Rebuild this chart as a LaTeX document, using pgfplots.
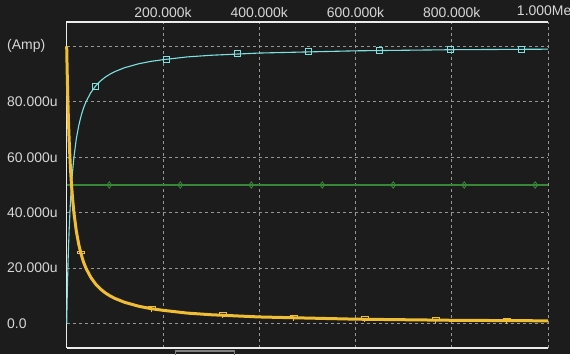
\documentclass[border=0pt]{standalone}
\usepackage{pgfplots}
\pgfplotsset{compat=1.18}
\usepackage{fontspec}
\setmainfont{Liberation Sans}
\definecolor{bg}{RGB}{28,28,28}
\definecolor{textc}{RGB}{215,215,215}
\definecolor{gridc}{RGB}{150,150,150}
\definecolor{axc}{RGB}{235,235,235}
\definecolor{cyanc}{RGB}{125,225,225}
\definecolor{yellowc}{RGB}{240,190,50}
\definecolor{greenc}{RGB}{55,135,55}
\pgfdeclareplotmark{ytee}{%
  \pgfpathrectangle{\pgfpoint{-3.5bp}{0bp}}{\pgfpoint{7bp}{2.5bp}}%
  \pgfpathmoveto{\pgfpoint{0bp}{0bp}}\pgfpathlineto{\pgfpoint{0bp}{-3bp}}%
  \pgfusepathqstroke}
\pgfplotstableread{
x cy ye
0 0 100
0.5 4.8 95.2
1 9.1 90.9
1.5 13.0 87.0
2 16.7 83.3
3 23.1 76.9
4 28.6 71.4
5 33.3 66.7
6 37.5 62.5
7.5 42.9 57.1
8.5 45.9 54.1
10 50 50
12 54.5 45.5
15 60 40
20 66.7 33.3
25 71.4 28.6
30 75 25
35 77.8 22.2
40 80 20
50 83.3 16.7
60 85.7 14.3
70 87.5 12.5
80 88.9 11.1
90 90.0 10.0
100 90.9 9.1
120 92.3 7.7
150 93.75 6.25
175 94.6 5.4
200 95.2 4.8
250 96.2 3.8
300 96.8 3.2
350 97.2 2.8
400 97.6 2.4
450 97.8 2.2
500 98.0 2.0
600 98.4 1.6
700 98.6 1.4
800 98.8 1.2
900 98.9 1.1
1000 99.0 1.0
}\curves
\usepackage{pgfplotstable}
\begin{document}
\begin{tikzpicture}[x=1bp,y=1bp]
\fill[bg] (0,0) rectangle (570,354);
\useasboundingbox (0,0) rectangle (570,354);
\begin{axis}[
  at={(66.7bp,6bp)}, anchor=south west, scale only axis,
  width=481.3bp, height=326bp,
  xmin=0, xmax=1000, ymin=-8.8, ymax=108.8,
  axis line style={draw=none},
  xtick={200,400,600,800,1000},
  xticklabels={200.000k,400.000k,600.000k,800.000k,1.000Meg},
  xticklabel pos=upper,
  ytick={0,20,40,60,80,100},
  yticklabels={0.0,20.000u,40.000u,60.000u,80.000u,(Amp)},
  major tick length=0pt,
  grid=major,
  major grid style={gridc, dash pattern=on 3bp off 3bp, line width=0.8bp},
  ticklabel style={font=\fontsize{14}{16}\selectfont, text=textc, inner sep=0pt},
  yticklabel style={anchor=west, xshift=-59.7bp},
  xticklabel style={anchor=south, yshift=3.7bp},
  clip=false,
]
\draw[axc, line width=1.4bp] (rel axis cs:0,0) -- (rel axis cs:0,1) -- (rel axis cs:1,1);
\draw[axc, line width=1.4bp] (rel axis cs:0,0) -- (rel axis cs:1,0);
% green constant
\addplot[greenc, line width=1.1bp] coordinates {(0,50) (1000,50)};
\addplot[greenc, only marks, mark=diamond, mark size=3.2bp, mark options={line width=0.8bp}]
  coordinates {(88.5,50) (236,50) (383.5,50) (531,50) (678.5,50) (826,50) (973.5,50)};
% cyan rising
\addplot[cyanc, line width=1.1bp, line join=round] table[x=x, y=cy] {\curves};
\addplot[cyanc, only marks, mark=square, mark size=3bp, mark options={line width=0.9bp}]
  coordinates {(59,85.5) (206.5,95.3) (354,97.3) (501.5,98.0) (649,98.5) (796.5,98.8) (944,99.0)};
% yellow falling
\addplot[yellowc, line width=3bp, line join=round] table[x=x, y=ye] {\curves};
\addplot[yellowc, only marks, mark=ytee, mark options={line width=0.9bp}]
  coordinates {(29.5,25.3) (177,5.4) (324.5,3.0) (472,2.1) (619.5,1.6) (767,1.3) (914.5,1.1)};
\end{axis}
\draw[gray, line width=1.6bp] (175.5,-3) rectangle (234.5,3);
\end{tikzpicture}
\end{document}
